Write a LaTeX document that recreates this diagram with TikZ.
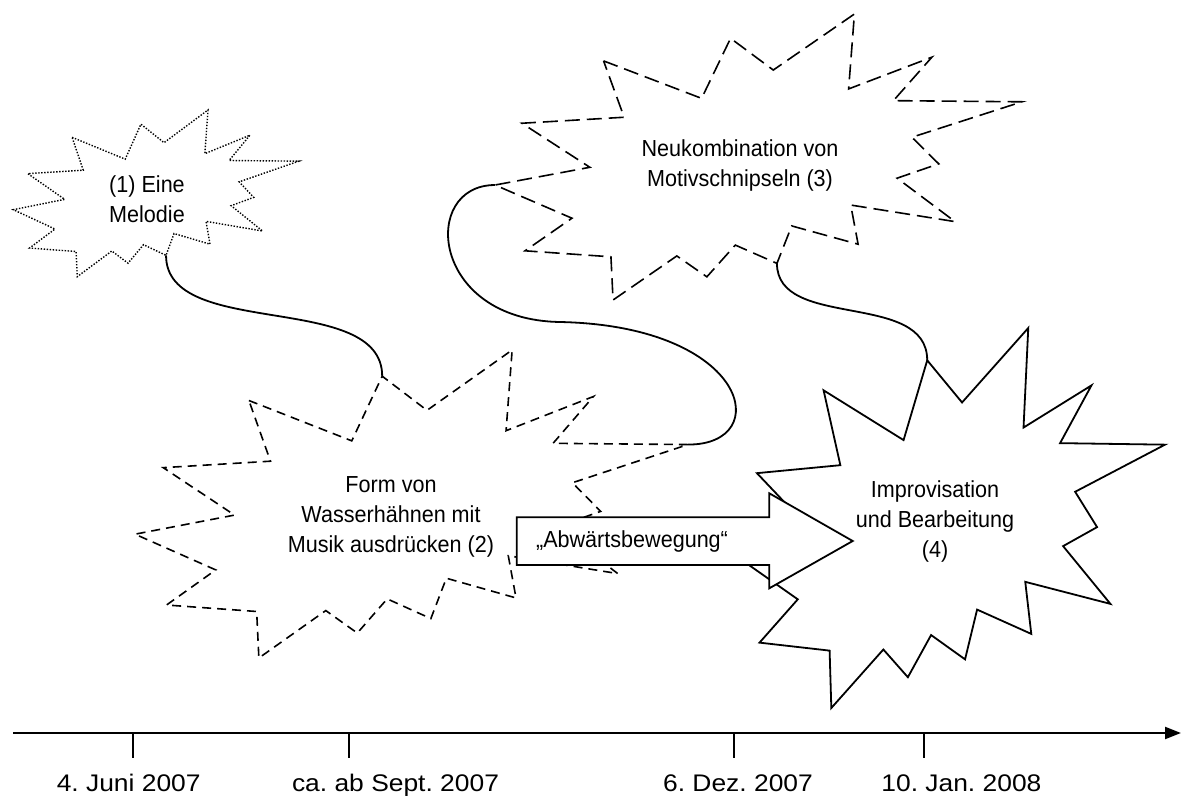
\documentclass[tikz,border=0pt]{standalone}
\usepackage{fontspec}
\setmainfont{Liberation Sans}[FakeStretch=0.93]
\newfontfamily\datefont{Liberation Sans}[FakeStretch=1.1]
\usetikzlibrary{arrows.meta}

\begin{document}
\frenchspacing
\begin{tikzpicture}[
    x=0.5pt, y=-0.5pt,
    bubbletext/.style={align=center, font=\fontsize{11.6pt}{15pt}\selectfont},
    datum/.style={anchor=base, font=\datefont\fontsize{12pt}{15pt}\selectfont},
    dotline/.style={line width=0.7pt, dash pattern=on 0.7pt off 0.8pt},
    shortdash/.style={line width=0.8pt, dash pattern=on 4.5pt off 3pt},
    longdash/.style={line width=0.8pt, dash pattern=on 7.5pt off 3.5pt},
    solidline/.style={line width=0.9pt},
    connector/.style={line width=0.9pt},
    explosion/.pic={
        \draw[fill=white] (20.6,16.4) -- (39.2,29.5) -- (44.7,8.5) -- (52.8,19.6) -- (68.2,0) -- (67.1,26.2)
            -- (82.9,15.1) -- (75.6,30.3) -- (100,30.7) -- (79.1,43.1) -- (84.2,52.4) -- (76.3,57.4)
            -- (87.3,72.6) -- (67.5,66.8) -- (68.9,80.5) -- (56.3,74.1) -- (53.5,87.2) -- (45.6,80.8)
            -- (40.2,91.9) -- (34.5,84.6) -- (22.4,100) -- (22.0,84.9) -- (5.7,82.8) -- (14.6,71.4)
            -- (0,59.8) -- (18.0,53.6) -- (5.1,38.2) -- (24.5,36.1) -- cycle;
        \coordinate (-t3) at (44.7,8.5);
        \coordinate (-t9) at (100,30.7);
        \coordinate (-t17) at (53.5,87.2);
        \coordinate (-t25) at (0,59.8);
    },
]
\useasboundingbox (0,0) rectangle (1187,796);

% the four stages
\pic[dotline, xscale=2.855, yscale=1.667] (melodystar) at (13.3,110) {explosion};
\pic[shortdash, xscale=5.53, yscale=3.08] (formstar) at (135,350) {explosion};
\pic[longdash, xscale=5.27, yscale=2.86] (recombstar) at (495,14) {explosion};
\pic[solidline, xscale=4.30, yscale=3.80] (improvstar) at (735,328) {explosion};

\node[bubbletext] (melody) at (147,199) {(1) Eine\\Melodie};
\node[bubbletext] (form) at (391,517) {Form von\\Wasserhähnen mit\\Musik ausdrücken (2)};
\node[bubbletext] (recomb) at (740,166) {Neukombination von\\Motivschnipseln (3)};
\node[bubbletext] (improv) at (935,521) {Improvisation\\und Bearbeitung\\(4)};

% links between the stages
\draw[connector] (melodystar-t17) .. controls +(0,85) and +(0,-86) .. (formstar-t3);
\draw[connector] (recombstar-t25) .. controls (420,185) and (430,320) .. (560,322)
    .. controls (750,326) and (775,445) .. (formstar-t9);
\draw[connector] (recombstar-t17) .. controls +(0,67) and +(0,-70) .. (improvstar-t3);

% block arrow
\draw[solidline, fill=white] (516.7,517.3) -- (769.3,517.3) -- (769.3,493.3) -- (852.7,541)
    -- (769.3,588.3) -- (769.3,565) -- (516.7,565) -- cycle;
\node[bubbletext, anchor=west] (shift) at (529,541) {„Abwärtsbewegung“};

% time line
\coordinate (axisstart) at (13,733);
\coordinate (axisend) at (1181,733);
\draw[line width=1.1pt, -{Triangle[length=8pt,width=6pt]}] (axisstart) -- (axisend);

\coordinate (tick1) at (133,733);
\coordinate (tick2) at (349,733);
\coordinate (tick3) at (734,733);
\coordinate (tick4) at (924,733);
\draw[line width=0.6pt] (tick1) -- ++(0,25);
\draw[line width=0.6pt] (tick2) -- ++(0,25);
\draw[line width=0.6pt] (tick3) -- ++(0,25);
\draw[line width=0.6pt] (tick4) -- ++(0,25);

\node[datum] (juni) at (128.7,791) {4. Juni 2007};
\node[datum] (sept) at (395.5,791) {ca. ab Sept. 2007};
\node[datum] (dez) at (738,791) {6. Dez. 2007};
\node[datum] (jan) at (961.4,791) {10. Jan. 2008};

\end{tikzpicture}
\end{document}
